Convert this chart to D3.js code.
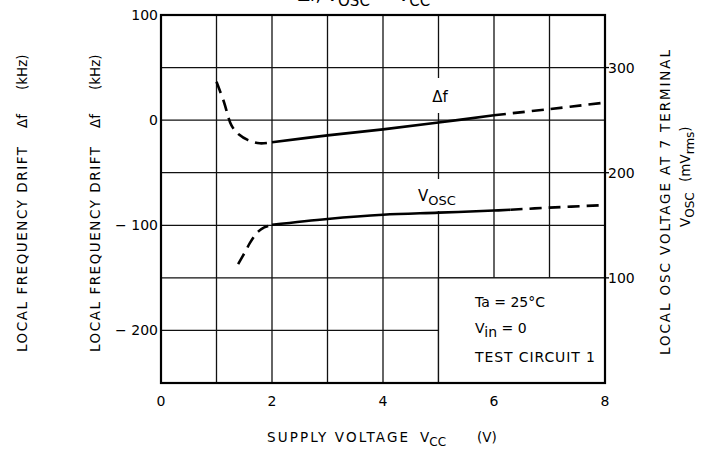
<!DOCTYPE html>
<html>
<head>
<meta charset="utf-8">
<script src="https://cdn.jsdelivr.net/npm/d3@7"></script>
<style>
  body { margin: 0; background: #fff; }
  svg { display: block; font-family: "DejaVu Sans", sans-serif; }
</style>
</head>
<body>
<div id="chart"></div>
<script>
// data
const xTicks = [0, 2, 4, 6, 8]
const leftTicks = [100, 0, -100, -200]
const rightTicks = [100, 200, 300]

// Δf (kHz) vs Vcc
const dfLowV = [1.0, 1.13, 1.27, 1.4, 1.57, 1.78, 2.0]
const dfLowK = [36.5, 18, -5, -13.5, -19, -22, -21]
const dfMidV = [2, 3, 4, 5, 6]
const dfMidK = [-21, -14.5, -8.8, -2.3, 4.7]
const dfHighV = [6, 7, 7.92]
const dfHighK = [4.7, 10.5, 16.2]

// Vosc (mVrms) vs Vcc
const voLowV = [1.39, 1.54, 1.6, 1.75, 1.86, 2.0]
const voLowM = [113, 127, 133, 144, 148, 150.5]
const voMidV = [2, 3, 4, 5, 6, 6.3]
const voMidM = [150.5, 156, 160, 162, 164, 164.8]
const voHighV = [6.3, 7, 7.92]
const voHighM = [164.8, 166.8, 169]

const W = 707, H = 450
const pLeft = 161, pRight = 605, pTop = 15, pBottom = 383

const svg = d3.select("#chart").append("svg")
    .attr("width", W)
    .attr("height", H)

const x = d3.scaleLinear().domain([0, 8]).range([pLeft, pRight])
const yL = d3.scaleLinear().domain([-250, 100]).range([pBottom, pTop])
const yR = d3.scaleLinear().domain([0, 350]).range([pBottom, pTop])

// grid
const grid = svg.append("g").attr("stroke", "#111").attr("stroke-width", 1.3)
grid.selectAll("line.v")
    .data(d3.range(1, 8))
    .enter().append("line")
    .attr("x1", d => x(d)).attr("x2", d => x(d))
    .attr("y1", pTop).attr("y2", pBottom)
grid.selectAll("line.h")
    .data(d3.range(-200, 100, 50))
    .enter().append("line")
    .attr("x1", pLeft).attr("x2", pRight)
    .attr("y1", d => yL(d)).attr("y2", d => yL(d))

// white box for conditions
svg.append("rect")
    .attr("x", x(5)).attr("y", yL(-150))
    .attr("width", x(8) - x(5)).attr("height", yL(-250) - yL(-150))
    .attr("fill", "#fff")
    .attr("stroke", "#111").attr("stroke-width", 1.3)

// label backgrounds (hide the gridline behind them)
svg.append("rect").attr("x", 428).attr("y", 78).attr("width", 24).attr("height", 35).attr("fill", "#fff")
svg.append("rect").attr("x", 415).attr("y", 179).attr("width", 50).attr("height", 32).attr("fill", "#fff")

// frame
svg.append("rect")
    .attr("x", pLeft).attr("y", pTop)
    .attr("width", pRight - pLeft).attr("height", pBottom - pTop)
    .attr("fill", "none").attr("stroke", "#000").attr("stroke-width", 2.2)

// curves
const pts = (vs, ys) => vs.map((v, i) => [v, ys[i]])
const lineL = d3.line().x(d => x(d[0])).y(d => yL(d[1])).curve(d3.curveCatmullRom)
const lineR = d3.line().x(d => x(d[0])).y(d => yR(d[1])).curve(d3.curveCatmullRom)

const curves = [
    { d: lineL(pts(dfLowV, dfLowK)), dash: true },
    { d: lineL(pts(dfMidV, dfMidK)), dash: false },
    { d: lineL(pts(dfHighV, dfHighK)), dash: true },
    { d: lineR(pts(voLowV, voLowM)), dash: true },
    { d: lineR(pts(voMidV, voMidM)), dash: false },
    { d: lineR(pts(voHighV, voHighM)), dash: true }
]
svg.append("g").selectAll("path")
    .data(curves)
    .enter().append("path")
    .attr("d", d => d.d)
    .attr("fill", "none")
    .attr("stroke", "#000")
    .attr("stroke-width", 2.6)
    .attr("stroke-dasharray", d => d.dash ? "12,7" : null)

// curve labels
svg.append("text").attr("x", 440).attr("y", 102).attr("text-anchor", "middle")
    .attr("font-size", 15).text("Δf")
const vl = svg.append("text").attr("x", 418).attr("y", 201).attr("font-size", 15)
vl.append("tspan").text("V")
vl.append("tspan").attr("dy", 4).attr("font-size", 13).text("OSC")

// tick labels
svg.append("g").selectAll("text")
    .data(leftTicks)
    .enter().append("text")
    .attr("x", 158).attr("y", d => yL(d) + 5)
    .attr("text-anchor", "end").attr("font-size", 14)
    .text(d => d < 0 ? "\u2212 " + Math.abs(d) : d)
svg.append("g").selectAll("text")
    .data(xTicks)
    .enter().append("text")
    .attr("x", d => x(d)).attr("y", 406)
    .attr("text-anchor", "middle").attr("font-size", 14)
    .text(d => d)
svg.append("g").selectAll("line")
    .data(rightTicks)
    .enter().append("line")
    .attr("x1", pRight).attr("x2", pRight + 4)
    .attr("y1", d => yR(d)).attr("y2", d => yR(d))
    .attr("stroke", "#000").attr("stroke-width", 1.3)
svg.append("g").selectAll("text")
    .data(rightTicks)
    .enter().append("text")
    .attr("x", pRight + 3).attr("y", d => yR(d) + 5)
    .attr("font-size", 14)
    .text(d => d)

// left axis titles (the datasheet prints it twice)
const leftTitle = (cx) => {
    const g = svg.append("g").attr("transform", "translate(" + cx + ",0) rotate(-90)")
    g.append("text").attr("x", -352).attr("y", 0).attr("font-size", 13.5)
        .attr("textLength", 205).text("LOCAL FREQUENCY DRIFT")
    g.append("text").attr("x", -128).attr("y", 0).attr("font-size", 13.5).text("Δf")
    g.append("text").attr("x", -90).attr("y", 0).attr("font-size", 13.5).text("(kHz)")
}
leftTitle(27)
leftTitle(100)

// right axis title
const rt = svg.append("g").attr("transform", "translate(670,0) rotate(-90)")
rt.append("text").attr("x", -355).attr("y", 0).attr("font-size", 13.5)
    .attr("textLength", 305).text("LOCAL OSC VOLTAGE AT 7 TERMINAL")
const rt2 = svg.append("g").attr("transform", "translate(690,0) rotate(-90)")
const r2a = rt2.append("text").attr("x", -227).attr("y", 0).attr("font-size", 13.5)
r2a.append("tspan").text("V")
r2a.append("tspan").attr("dy", 4).attr("font-size", 12).text("OSC")
const r2b = rt2.append("text").attr("x", -182).attr("y", 0).attr("font-size", 13.5)
r2b.append("tspan").text("(mV")
r2b.append("tspan").attr("dy", 4).attr("font-size", 12).text("rms")
r2b.append("tspan").attr("dy", -4).text(")")

// x axis title
const xt = svg.append("text").attr("y", 442).attr("font-size", 13.5)
xt.append("tspan").attr("x", 267).attr("textLength", 141).text("SUPPLY VOLTAGE")
xt.append("tspan").attr("x", 420).text("V")
xt.append("tspan").attr("dy", 4).attr("font-size", 12).text("CC")
xt.append("tspan").attr("x", 477).attr("dy", -4).text("(V)")

// conditions
const cond = svg.append("g").attr("font-size", 14)
cond.append("text").attr("x", 475).attr("y", 307).text("Ta = 25°C")
const vin = cond.append("text").attr("x", 475).attr("y", 333)
vin.append("tspan").text("V")
vin.append("tspan").attr("dy", 4).text("in")
vin.append("tspan").attr("dy", -4).text(" = 0")
cond.append("text").attr("x", 475).attr("y", 362).attr("textLength", 120).text("TEST CIRCUIT 1")

// title, cut off at the top edge
const title = svg.append("text").attr("x", 298).attr("y", 1).attr("font-size", 17)
title.append("tspan").text("Δf, V")
title.append("tspan").attr("dy", 5).attr("font-size", 15).text("OSC")
title.append("tspan").attr("dy", -5).text("  —  V")
title.append("tspan").attr("dy", 5).attr("font-size", 15).text("CC")
</script>
</body>
</html>
